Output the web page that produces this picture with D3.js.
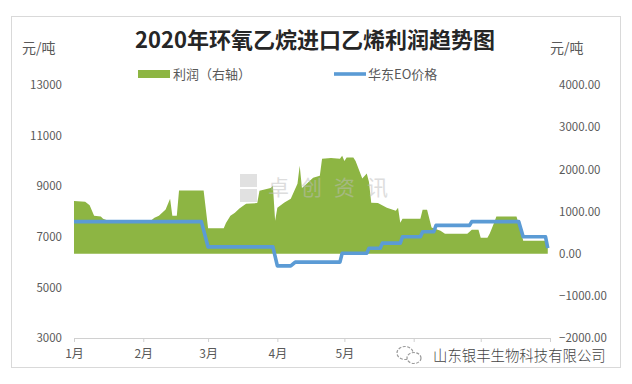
<!DOCTYPE html>
<html>
<head>
<meta charset="utf-8">
<script src="https://cdn.jsdelivr.net/npm/d3@7"></script>
<style>
  html, body { margin: 0; padding: 0; background: #fff; }
  svg { display: block; }
  text { font-family: "Noto Sans CJK SC", "Noto Sans", sans-serif; }
</style>
</head>
<body>
<svg id="chart" width="632" height="384"></svg>
<script>
// EO price (left axis, 元/吨) at the days where it changes
const priceDates = ["2020-01-01","2020-02-27","2020-03-01","2020-03-30","2020-04-01","2020-04-07","2020-04-09",
  "2020-04-29","2020-04-30","2020-05-11","2020-05-12","2020-05-17","2020-05-18","2020-05-26","2020-05-27",
  "2020-06-04","2020-06-05","2020-06-10","2020-06-11","2020-06-26","2020-06-27","2020-07-18","2020-07-20",
  "2020-07-30","2020-07-31"];
const priceValues = [7600,7600,6600,6600,5850,5850,6000,
  6000,6350,6350,6550,6550,6750,6750,7000,
  7000,7200,7200,7450,7450,7600,7600,7000,
  7000,6550];

// Import-ethylene route profit (right axis, 元/吨)
const profitDates = ["2020-01-01","2020-01-06","2020-01-08","2020-01-10","2020-01-13","2020-01-14","2020-01-17",
  "2020-02-04","2020-02-06","2020-02-08","2020-02-11","2020-02-13","2020-02-14","2020-02-16","2020-02-17","2020-02-28",
  "2020-03-01","2020-03-08","2020-03-09","2020-03-11","2020-03-13","2020-03-15","2020-03-18","2020-03-23","2020-03-24","2020-03-29","2020-03-30","2020-03-31",
  "2020-04-01","2020-04-04","2020-04-07","2020-04-10","2020-04-11","2020-04-12","2020-04-14","2020-04-17","2020-04-20","2020-04-21","2020-04-25","2020-04-29","2020-04-30",
  "2020-05-01","2020-05-02","2020-05-05","2020-05-06","2020-05-09","2020-05-11","2020-05-12","2020-05-13","2020-05-16","2020-05-20","2020-05-24","2020-05-25","2020-05-26","2020-05-27",
  "2020-06-04","2020-06-05","2020-06-07","2020-06-09","2020-06-13","2020-06-15","2020-06-25","2020-06-27","2020-06-30",
  "2020-07-01","2020-07-04","2020-07-05","2020-07-07","2020-07-08","2020-07-17","2020-07-19","2020-07-20","2020-07-31"];
const profitValues = [1250,1230,1150,900,880,830,770,
  770,850,900,1050,1300,900,900,1500,1500,
  600,600,730,900,970,1070,1185,1200,1490,1560,1610,780,
  1090,1210,1300,1660,2085,1560,1650,1800,1850,2250,2270,2250,2320,
  2200,2280,2280,2200,1780,1900,1700,1210,1200,1090,1020,1090,735,830,
  830,1040,1040,620,545,475,475,570,570,
  380,380,470,735,880,880,545,308,308];

const leftTicks = [3000,5000,7000,9000,11000,13000];
const rightTicks = [-2000,-1000,0,1000,2000,3000,4000];
// month tick marks; the later months carry no visible label (publisher mark sits there)
const monthTicks = ["2020-01-01","2020-02-01","2020-03-01","2020-04-01","2020-05-01","2020-06-01","2020-07-01","2020-08-01"];
const monthLabels = ["1月","2月","3月","4月","5月"];

const titleText = "2020年环氧乙烷进口乙烯利润趋势图";
const unitText = "元/吨";
const seriesNames = ["利润（右轴）", "华东EO价格"];
const sourceText = "山东银丰生物科技有限公司";

const parse = d3.timeParse("%Y-%m-%d");
const price = priceDates.map((d, i) => ({ date: parse(d), v: priceValues[i] }));
const profit = profitDates.map((d, i) => ({ date: parse(d), v: profitValues[i] }));

const GREEN = "#8db543", BLUE = "#5b9bd5", GREY = "#595959";

const svg = d3.select("#chart");

// outer chart frame
svg.append("rect").attr("x", 11.5).attr("y", 16.5).attr("width", 609).attr("height", 351)
  .attr("fill", "#fff").attr("stroke", "#d9d9d9").attr("stroke-width", 1);

const x = d3.scaleTime().domain([parse("2020-01-01"), parse("2020-08-01")]).range([74, 550]);
const yL = d3.scaleLinear().domain([3000, 13000]).range([338, 85]);
const yR = d3.scaleLinear().domain([-2000, 4000]).range([338, 85]);

// profit area, filled from zero
svg.append("path").datum(profit)
  .attr("fill", GREEN)
  .attr("d", d3.area().x(d => x(d.date)).y0(yR(0)).y1(d => yR(d.v)));

// faint agency watermark inside the plot
const wm = svg.append("g").attr("opacity", 0.5);
wm.append("rect").attr("x", 240).attr("y", 174).attr("width", 17).attr("height", 13).attr("fill", "#c4c4c4");
wm.append("rect").attr("x", 240).attr("y", 189).attr("width", 17).attr("height", 13).attr("fill", "#c4c4c4");
wm.append("text").attr("x", 268).attr("y", 195).attr("font-size", 21).attr("fill", "#bdbdbd")
  .attr("letter-spacing", 12).text("卓创资讯");

// EO price line
svg.append("path").datum(price)
  .attr("fill", "none").attr("stroke", BLUE).attr("stroke-width", 3.6)
  .attr("stroke-linejoin", "round")
  .attr("d", d3.line().x(d => x(d.date)).y(d => yL(d.v)));

// category axis
const xAxis = svg.append("g").attr("transform", `translate(0,${yL(3000)})`)
  .call(d3.axisBottom(x).tickValues(monthTicks.map(parse))
    .tickFormat((d, i) => monthLabels[i] || "").tickSize(4).tickSizeOuter(0));
xAxis.select(".domain").attr("stroke", "#d0d0d0").attr("stroke-width", 1.2);
xAxis.selectAll(".tick line").attr("stroke", "#d0d0d0");
xAxis.selectAll(".tick text").attr("fill", GREY).attr("font-size", 12).attr("dy", "1.05em");
xAxis.selectAll(".tick text").filter(function () { return this.textContent === ""; }).remove();

// left value axis (labels only)
const lAxis = svg.append("g").attr("transform", "translate(62,0)")
  .call(d3.axisLeft(yL).tickValues(leftTicks).tickFormat(d3.format("d")).tickSize(0).tickPadding(0));
lAxis.select(".domain").remove();
lAxis.selectAll("text").attr("fill", GREY).attr("font-size", 11.5);

// right value axis (labels only)
const rAxis = svg.append("g").attr("transform", "translate(559,0)")
  .call(d3.axisRight(yR).tickValues(rightTicks).tickFormat(d3.format(".2f")).tickSize(0).tickPadding(0));
rAxis.select(".domain").remove();
rAxis.selectAll("text").attr("fill", GREY).attr("font-size", 11.5);

// title and unit captions
svg.append("text").attr("x", 315).attr("y", 48).attr("text-anchor", "middle")
  .attr("font-size", 22).attr("font-weight", 700).attr("fill", "#262626").text(titleText);
svg.append("text").attr("x", 22).attr("y", 53).attr("font-size", 14).attr("fill", GREY).text(unitText);
svg.append("text").attr("x", 550).attr("y", 53).attr("font-size", 14).attr("fill", GREY).text(unitText);

// legend
svg.append("rect").attr("x", 138).attr("y", 70).attr("width", 32).attr("height", 8).attr("fill", GREEN);
svg.append("text").attr("x", 173).attr("y", 79).attr("font-size", 13).attr("fill", GREY).text(seriesNames[0]);
svg.append("line").attr("x1", 334).attr("x2", 366).attr("y1", 74).attr("y2", 74)
  .attr("stroke", BLUE).attr("stroke-width", 3.6);
svg.append("text").attr("x", 368).attr("y", 79).attr("font-size", 13).attr("fill", GREY).text(seriesNames[1]);

// publisher mark in the lower right corner
const pub = svg.append("g");
pub.append("ellipse").attr("cx", 405).attr("cy", 353).attr("rx", 8).attr("ry", 6.5)
  .attr("fill", "#fff").attr("stroke", "#9a9a9a").attr("stroke-width", 1.2).attr("stroke-dasharray", "3,1.5");
pub.append("ellipse").attr("cx", 414).attr("cy", 358).attr("rx", 7).attr("ry", 5.5)
  .attr("fill", "#fff").attr("stroke", "#9a9a9a").attr("stroke-width", 1.2).attr("stroke-dasharray", "3,1.5");
pub.append("text").attr("x", 433).attr("y", 361).attr("font-size", 14.4).attr("fill", "#444")
  .attr("font-weight", 300).text(sourceText);
</script>
</body>
</html>
